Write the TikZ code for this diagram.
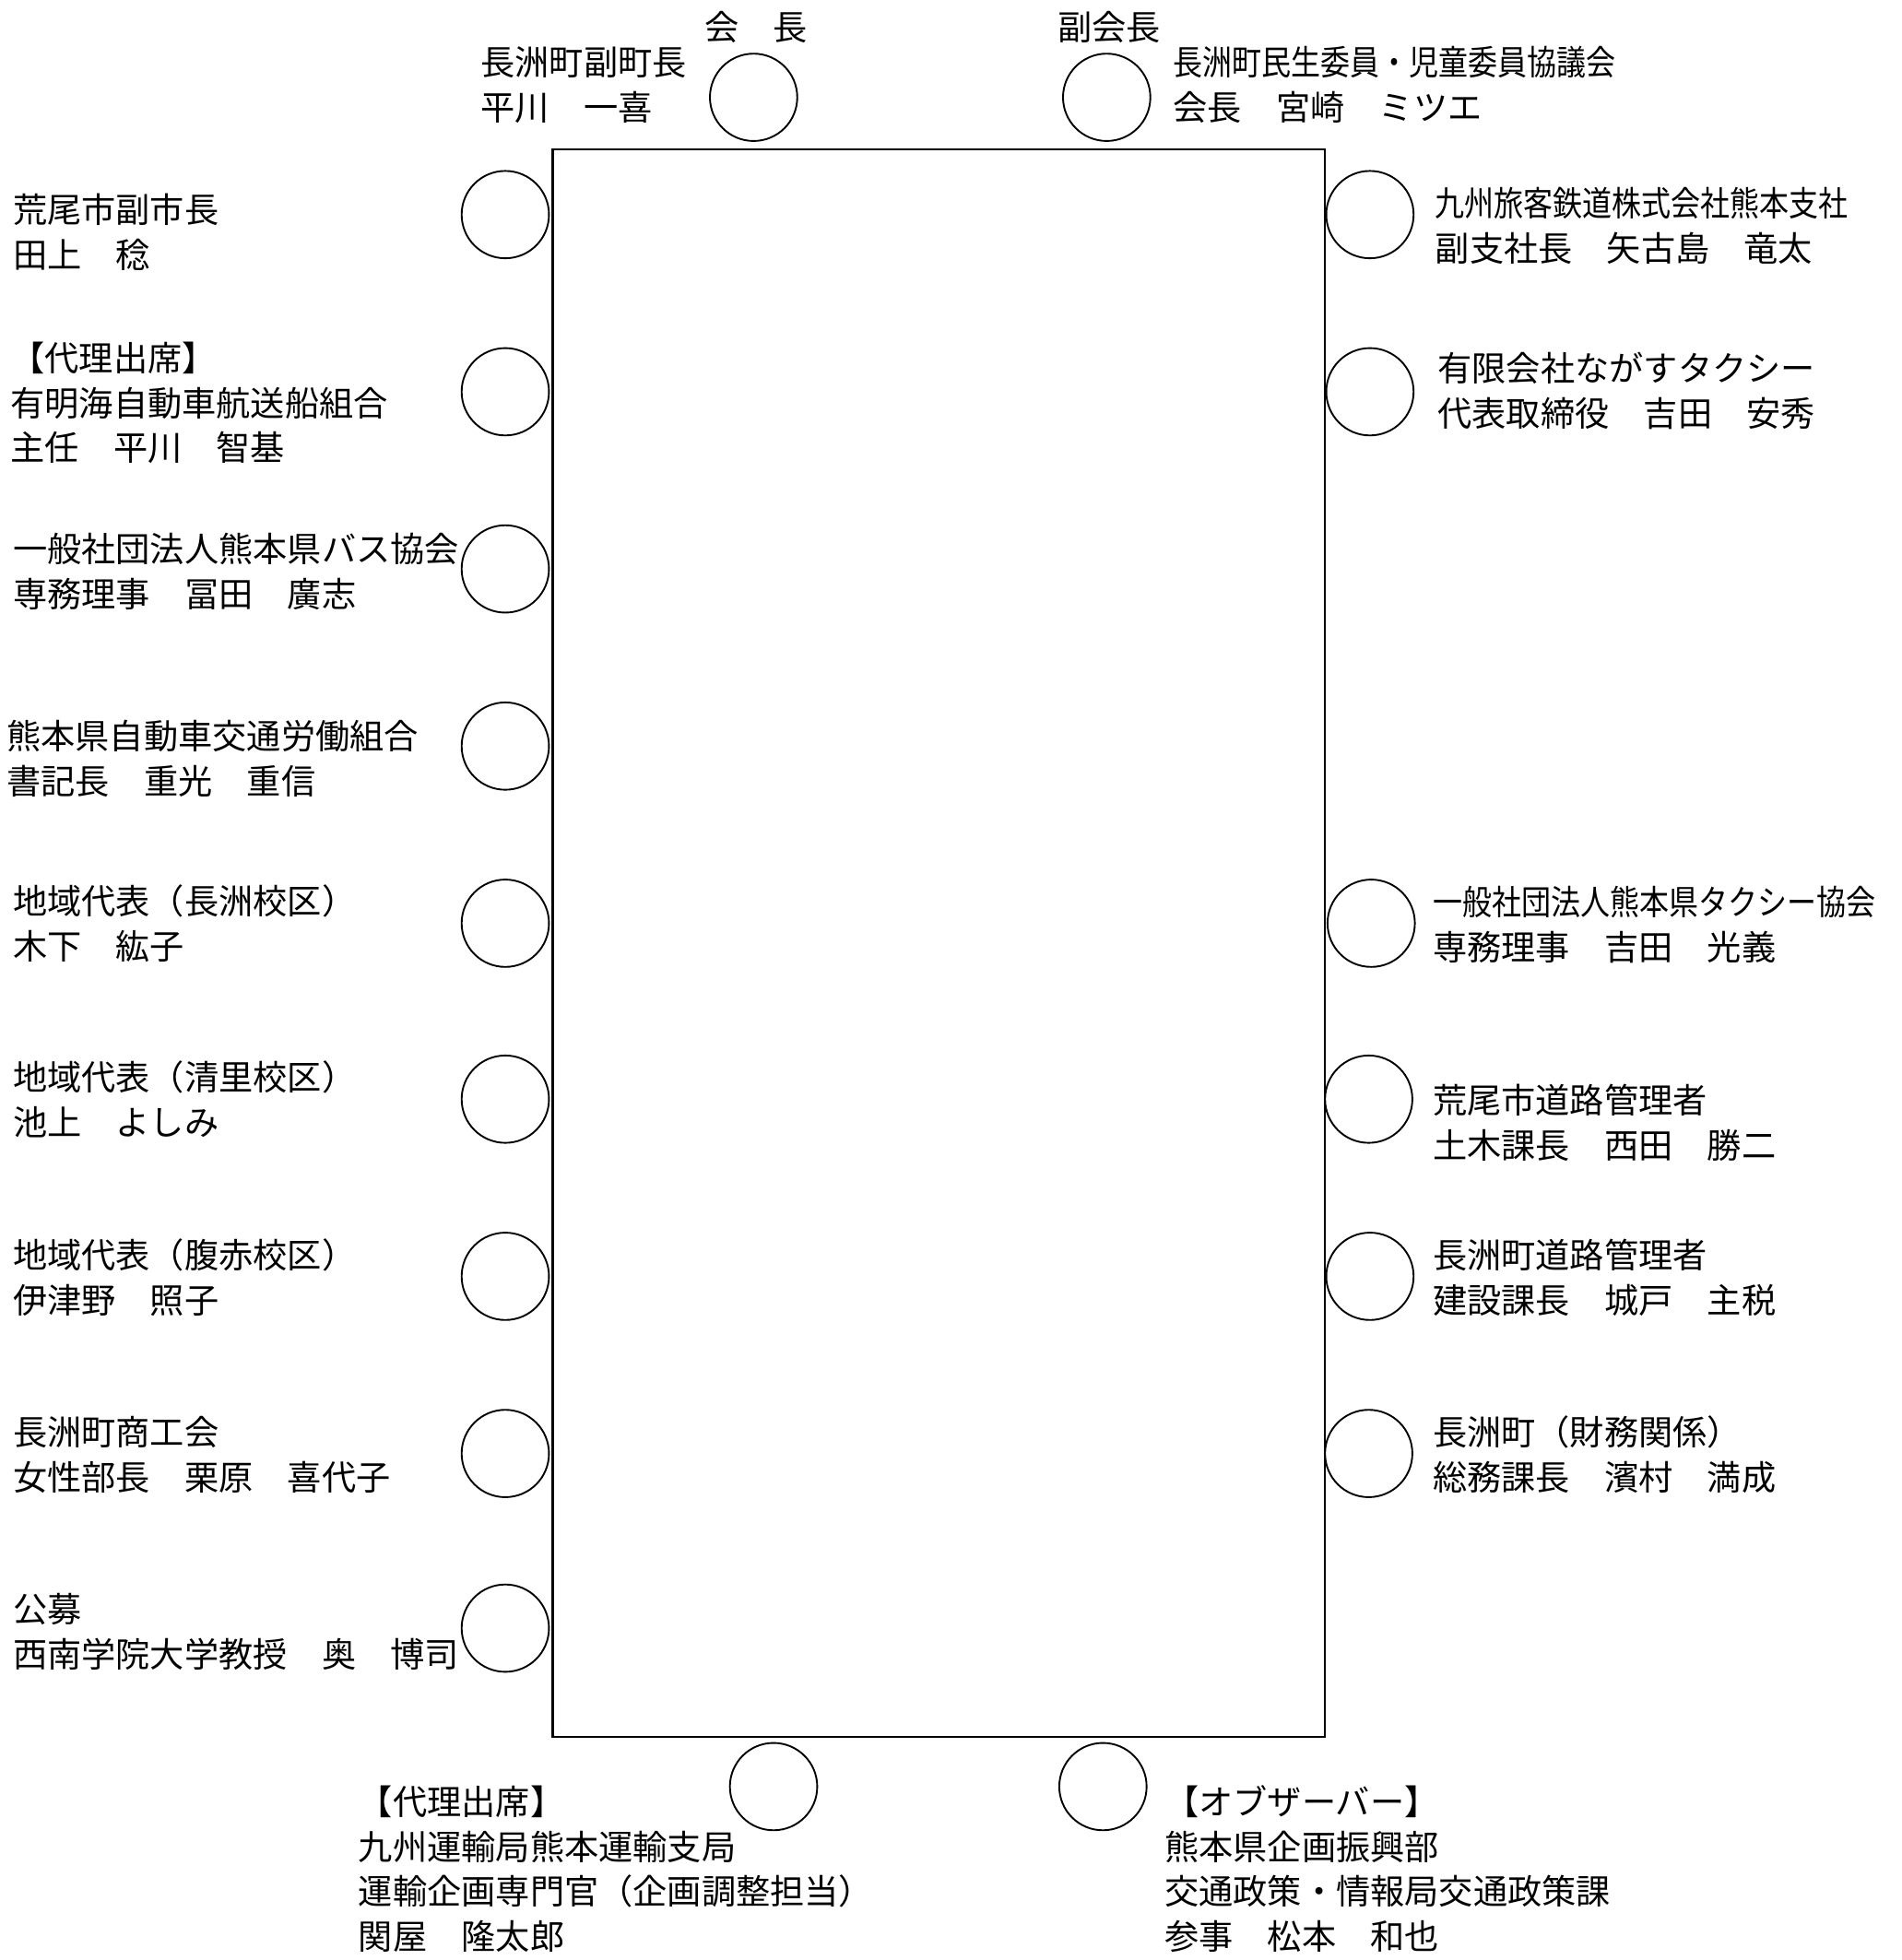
\documentclass[tikz,border=0pt]{standalone}
\usepackage{fontspec}
\setmainfont{Noto Sans CJK JP}
\newfontfamily\cjkc[FakeStretch=0.86]{Noto Sans CJK JP}
\begin{document}
\begin{tikzpicture}[x=0.5pt,y=-0.5pt,
  seat/.style={draw,circle,minimum size=35pt,inner sep=0pt,line width=0.7pt},
  lbl/.style={anchor=west,align=left,inner sep=0pt,font=\fontsize{13.75pt}{18pt}\selectfont},
  ttl/.style={anchor=center,inner sep=0pt,font=\fontsize{13.75pt}{18pt}\selectfont}]
\useasboundingbox (0,0) rectangle (1524,1571);
% table
\node[draw,line width=0.8pt,minimum width=309.5pt,minimum height=636pt,inner sep=0pt] (table) at (752.5,756) {};
% top
\node[ttl] (tchair) at (606,22) {会　長};
\node[ttl] (tvice) at (889,22) {副会長};
\node[seat] (ctop1) at (604,78) {};
\node[seat] (ctop2) at (887,78) {};
\node[lbl] (t1) at (385,68) {長洲町副町長\\平川　一喜};
\node[lbl] (t2) at (940,68) {{\cjkc 長洲町民生委員・児童委員協議会}\\会長　宮崎　ミツエ};
% left
\node[seat] (cl1) at (405,172) {};
\node[seat] (cl2) at (405,314) {};
\node[seat] (cl3) at (405,456) {};
\node[seat] (cl4) at (405,598) {};
\node[seat] (cl5) at (405,740) {};
\node[seat] (cl6) at (405,881) {};
\node[seat] (cl7) at (405,1023) {};
\node[seat] (cl8) at (405,1165) {};
\node[seat] (cl9) at (405,1305) {};
\node[lbl] (l1) at (10,186) {荒尾市副市長\\田上　稔};
\node[lbl] (l2) at (8,323) {【代理出席】\\有明海自動車航送船組合\\主任　平川　智基};
\node[lbl] (l3) at (10,458) {一般社団法人熊本県バス協会\\専務理事　冨田　廣志};
\node[lbl] (l4) at (5,608) {熊本県自動車交通労働組合\\書記長　重光　重信};
\node[lbl] (l5) at (10,740) {地域代表（長洲校区）\\木下　紘子};
\node[lbl] (l6) at (10,881) {地域代表（清里校区）\\池上　よしみ};
\node[lbl] (l7) at (10,1024) {地域代表（腹赤校区）\\伊津野　照子};
\node[lbl] (l8) at (10,1166) {長洲町商工会\\女性部長　栗原　喜代子};
\node[lbl] (l9) at (10,1308) {公募\\西南学院大学教授　奥　博司};
% right
\node[seat] (cr1) at (1098,172) {};
\node[seat] (cr2) at (1098,314) {};
\node[seat] (cr3) at (1099,740) {};
\node[seat] (cr4) at (1097,881) {};
\node[seat] (cr5) at (1098,1023) {};
\node[seat] (cr6) at (1097,1165) {};
\node[lbl] (r1) at (1150,181) {{\cjkc 九州旅客鉄道株式会社熊本支社}\\副支社長　矢古島　竜太};
\node[lbl] (r2) at (1152,313) {有限会社ながすタクシー\\代表取締役　吉田　安秀};
\node[lbl] (r3) at (1148,741) {{\cjkc 一般社団法人熊本県タクシー協会}\\専務理事　吉田　光義};
\node[lbl] (r4) at (1148,900) {荒尾市道路管理者\\土木課長　西田　勝二};
\node[lbl] (r5) at (1148,1024) {長洲町道路管理者\\建設課長　城戸　主税};
\node[lbl] (r6) at (1148,1166) {長洲町（財務関係）\\総務課長　濱村　満成};
% bottom
\node[seat] (cb1) at (620,1432) {};
\node[seat] (cb2) at (884,1432) {};
\node[lbl] (b1) at (287,1498) {【代理出席】\\九州運輸局熊本運輸支局\\運輸企画専門官（企画調整担当）\\関屋　隆太郎};
\node[lbl] (b2) at (933,1498) {【オブザーバー】\\熊本県企画振興部\\交通政策・情報局交通政策課\\参事　松本　和也};
\end{tikzpicture}
\end{document}
